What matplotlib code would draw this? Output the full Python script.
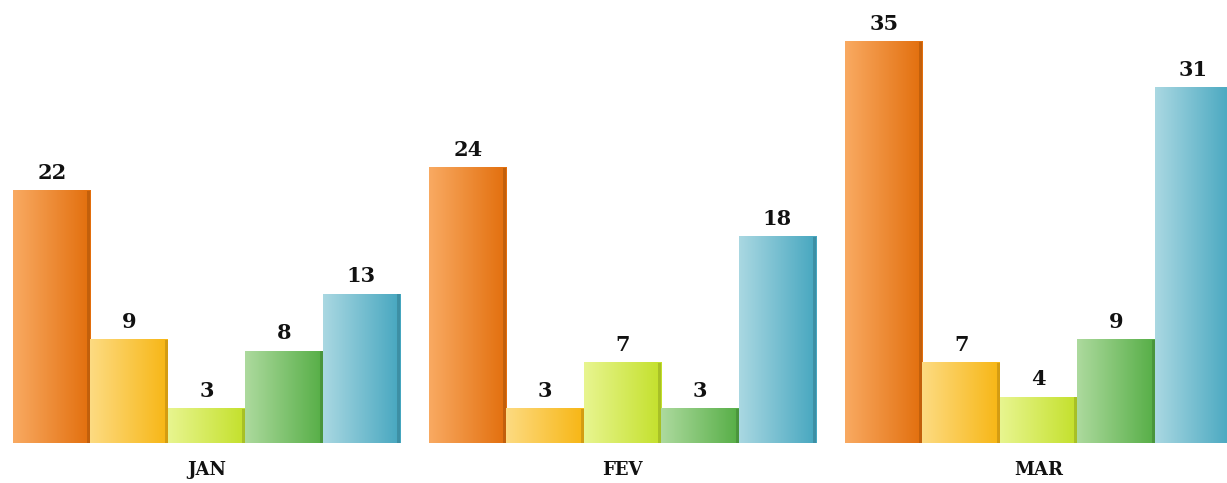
import matplotlib
matplotlib.use('Agg')
import matplotlib.pyplot as plt
import numpy as np
from matplotlib.colors import LinearSegmentedColormap

MONTHS = ['JAN', 'FEV', 'MAR']
SERIES = [
    [22, 24, 35],   # orange
    [9, 3, 7],      # yellow
    [3, 7, 4],      # lime
    [8, 3, 9],      # green
    [13, 18, 31],   # blue
]
# (light, dark) gradient pairs per series
COLORS = [
    ('#F9AA62', '#E26E0C'),
    ('#FDDB82', '#F7B614'),
    ('#E8F590', '#C3E02A'),
    ('#ADDA9E', '#56AE46'),
    ('#AAD8E2', '#45A6BF'),
]

GROUP_STEP = 5.375
BAR_W = 1.0


def main():
    fig = plt.figure(figsize=(12.27, 4.83), dpi=100)
    ax = fig.add_axes([0, 40 / 483, 1, 443 / 483])
    ymax = 443 / 11.46

    grad = np.linspace(0, 1, 256).reshape(1, -1)
    centers = np.arange(len(MONTHS)) * GROUP_STEP

    for si, vals in enumerate(SERIES):
        cmap = LinearSegmentedColormap.from_list(f's{si}', COLORS[si])
        for gi, v in enumerate(vals):
            x0 = centers[gi] + (si - 2.5) * BAR_W
            x1 = x0 + BAR_W
            ax.imshow(grad, extent=[x0, x1, 0, v], aspect='auto', cmap=cmap,
                      interpolation='bicubic', zorder=2)
            # thin dark edge on the right for a shaded look
            ax.axvspan(x1 - 0.04, x1, ymin=0, ymax=v / ymax,
                       color='black', alpha=0.14, lw=0, zorder=3)
            ax.text(x0 + BAR_W / 2, v + 0.7, str(v), ha='center', va='bottom',
                    fontsize=15, fontweight='bold', family='DejaVu Serif',
                    color='#111111', zorder=4)

    ax.set_xlim(-2.668, 13.185)
    ax.set_ylim(0, ymax)
    ax.set_xticks(centers)
    ax.set_xticklabels(MONTHS, fontsize=13, fontweight='bold', family='DejaVu Serif',
                       color='#111111')
    ax.tick_params(axis='x', length=0, pad=13)
    ax.set_yticks([])
    for s in ax.spines.values():
        s.set_visible(False)

    fig.savefig('out.png', dpi=100, facecolor='white')
    plt.close(fig)


if __name__ == '__main__':
    main()
